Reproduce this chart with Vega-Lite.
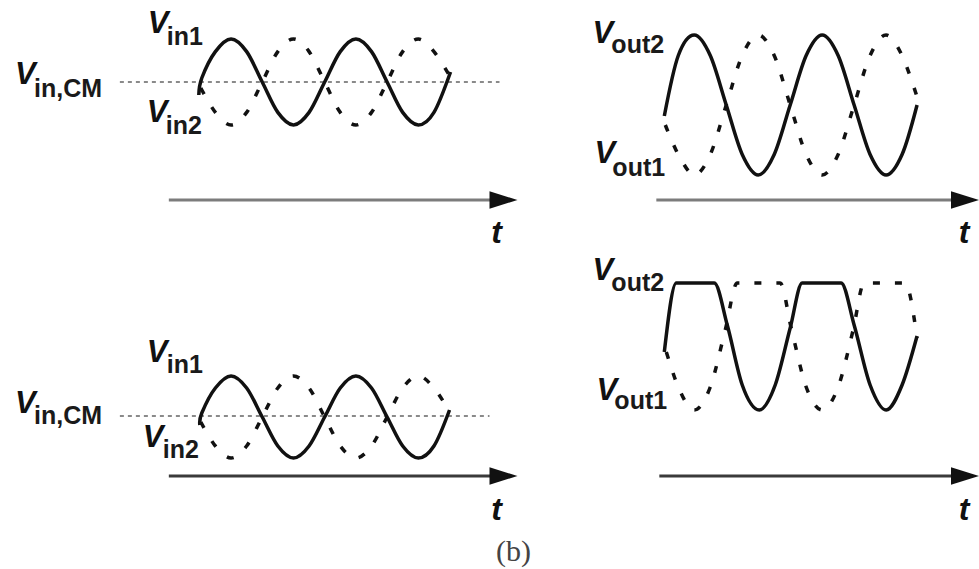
{
  "$schema": "https://vega.github.io/schema/vega-lite/v6.json",
  "width": 979,
  "height": 569,
  "padding": 0,
  "autosize": {"type": "fit", "contains": "padding"},
  "background": "#ffffff",
  "config": {"view": {"stroke": null}},
  "datasets": {
    "waves": [
      {"panel": "in_top", "signal": "Vin1", "x": 199, "y": 95},
      {"panel": "in_top", "signal": "Vin1", "x": 202, "y": 78},
      {"panel": "in_top", "signal": "Vin1", "x": 215.6, "y": 51.6},
      {"panel": "in_top", "signal": "Vin1", "x": 231.3, "y": 39},
      {"panel": "in_top", "signal": "Vin1", "x": 246.9, "y": 51.6},
      {"panel": "in_top", "signal": "Vin1", "x": 262.5, "y": 82},
      {"panel": "in_top", "signal": "Vin1", "x": 278.1, "y": 112.4},
      {"panel": "in_top", "signal": "Vin1", "x": 293.8, "y": 125},
      {"panel": "in_top", "signal": "Vin1", "x": 309.4, "y": 112.4},
      {"panel": "in_top", "signal": "Vin1", "x": 325, "y": 82},
      {"panel": "in_top", "signal": "Vin1", "x": 340.6, "y": 51.6},
      {"panel": "in_top", "signal": "Vin1", "x": 356.3, "y": 39},
      {"panel": "in_top", "signal": "Vin1", "x": 371.9, "y": 51.6},
      {"panel": "in_top", "signal": "Vin1", "x": 387.5, "y": 82},
      {"panel": "in_top", "signal": "Vin1", "x": 403.1, "y": 112.4},
      {"panel": "in_top", "signal": "Vin1", "x": 418.8, "y": 125},
      {"panel": "in_top", "signal": "Vin1", "x": 434.4, "y": 112.4},
      {"panel": "in_top", "signal": "Vin1", "x": 451, "y": 72},
      {"panel": "in_top", "signal": "Vin2", "x": 201, "y": 88},
      {"panel": "in_top", "signal": "Vin2", "x": 215.6, "y": 112.4},
      {"panel": "in_top", "signal": "Vin2", "x": 231.3, "y": 125},
      {"panel": "in_top", "signal": "Vin2", "x": 246.9, "y": 112.4},
      {"panel": "in_top", "signal": "Vin2", "x": 262.5, "y": 82},
      {"panel": "in_top", "signal": "Vin2", "x": 278.1, "y": 51.6},
      {"panel": "in_top", "signal": "Vin2", "x": 293.8, "y": 39},
      {"panel": "in_top", "signal": "Vin2", "x": 309.4, "y": 51.6},
      {"panel": "in_top", "signal": "Vin2", "x": 325, "y": 82},
      {"panel": "in_top", "signal": "Vin2", "x": 340.6, "y": 112.4},
      {"panel": "in_top", "signal": "Vin2", "x": 356.3, "y": 125},
      {"panel": "in_top", "signal": "Vin2", "x": 371.9, "y": 112.4},
      {"panel": "in_top", "signal": "Vin2", "x": 387.5, "y": 82},
      {"panel": "in_top", "signal": "Vin2", "x": 403.1, "y": 51.6},
      {"panel": "in_top", "signal": "Vin2", "x": 418.8, "y": 39},
      {"panel": "in_top", "signal": "Vin2", "x": 434.4, "y": 51.6},
      {"panel": "in_top", "signal": "Vin2", "x": 449, "y": 74},

      {"panel": "out_top", "signal": "Vout2", "x": 665, "y": 116},
      {"panel": "out_top", "signal": "Vout2", "x": 679, "y": 55.5},
      {"panel": "out_top", "signal": "Vout2", "x": 695, "y": 35},
      {"panel": "out_top", "signal": "Vout2", "x": 711, "y": 55.5},
      {"panel": "out_top", "signal": "Vout2", "x": 727, "y": 105},
      {"panel": "out_top", "signal": "Vout2", "x": 743, "y": 154.5},
      {"panel": "out_top", "signal": "Vout2", "x": 759, "y": 175},
      {"panel": "out_top", "signal": "Vout2", "x": 775, "y": 154.5},
      {"panel": "out_top", "signal": "Vout2", "x": 791, "y": 105},
      {"panel": "out_top", "signal": "Vout2", "x": 807, "y": 55.5},
      {"panel": "out_top", "signal": "Vout2", "x": 823, "y": 35},
      {"panel": "out_top", "signal": "Vout2", "x": 839, "y": 55.5},
      {"panel": "out_top", "signal": "Vout2", "x": 855, "y": 105},
      {"panel": "out_top", "signal": "Vout2", "x": 871, "y": 154.5},
      {"panel": "out_top", "signal": "Vout2", "x": 887, "y": 175},
      {"panel": "out_top", "signal": "Vout2", "x": 903, "y": 154.5},
      {"panel": "out_top", "signal": "Vout2", "x": 918, "y": 105},
      {"panel": "out_top", "signal": "Vout1", "x": 666, "y": 125},
      {"panel": "out_top", "signal": "Vout1", "x": 679, "y": 154.5},
      {"panel": "out_top", "signal": "Vout1", "x": 695, "y": 175},
      {"panel": "out_top", "signal": "Vout1", "x": 711, "y": 154.5},
      {"panel": "out_top", "signal": "Vout1", "x": 727, "y": 105},
      {"panel": "out_top", "signal": "Vout1", "x": 743, "y": 55.5},
      {"panel": "out_top", "signal": "Vout1", "x": 759, "y": 35},
      {"panel": "out_top", "signal": "Vout1", "x": 775, "y": 55.5},
      {"panel": "out_top", "signal": "Vout1", "x": 791, "y": 105},
      {"panel": "out_top", "signal": "Vout1", "x": 807, "y": 154.5},
      {"panel": "out_top", "signal": "Vout1", "x": 823, "y": 175},
      {"panel": "out_top", "signal": "Vout1", "x": 839, "y": 154.5},
      {"panel": "out_top", "signal": "Vout1", "x": 855, "y": 105},
      {"panel": "out_top", "signal": "Vout1", "x": 871, "y": 55.5},
      {"panel": "out_top", "signal": "Vout1", "x": 887, "y": 35},
      {"panel": "out_top", "signal": "Vout1", "x": 903, "y": 55.5},
      {"panel": "out_top", "signal": "Vout1", "x": 919, "y": 100},

      {"panel": "in_bot", "signal": "Vin1", "x": 200, "y": 425},
      {"panel": "in_bot", "signal": "Vin1", "x": 202, "y": 413},
      {"panel": "in_bot", "signal": "Vin1", "x": 215.6, "y": 388},
      {"panel": "in_bot", "signal": "Vin1", "x": 231.3, "y": 376},
      {"panel": "in_bot", "signal": "Vin1", "x": 246.9, "y": 388},
      {"panel": "in_bot", "signal": "Vin1", "x": 262.5, "y": 417},
      {"panel": "in_bot", "signal": "Vin1", "x": 278.1, "y": 446},
      {"panel": "in_bot", "signal": "Vin1", "x": 293.8, "y": 458},
      {"panel": "in_bot", "signal": "Vin1", "x": 309.4, "y": 446},
      {"panel": "in_bot", "signal": "Vin1", "x": 325, "y": 417},
      {"panel": "in_bot", "signal": "Vin1", "x": 340.6, "y": 388},
      {"panel": "in_bot", "signal": "Vin1", "x": 356.3, "y": 376},
      {"panel": "in_bot", "signal": "Vin1", "x": 371.9, "y": 388},
      {"panel": "in_bot", "signal": "Vin1", "x": 387.5, "y": 417},
      {"panel": "in_bot", "signal": "Vin1", "x": 403.1, "y": 446},
      {"panel": "in_bot", "signal": "Vin1", "x": 418.8, "y": 458},
      {"panel": "in_bot", "signal": "Vin1", "x": 434.4, "y": 446},
      {"panel": "in_bot", "signal": "Vin1", "x": 450, "y": 410},
      {"panel": "in_bot", "signal": "Vin2", "x": 201, "y": 422},
      {"panel": "in_bot", "signal": "Vin2", "x": 215.6, "y": 446},
      {"panel": "in_bot", "signal": "Vin2", "x": 231.3, "y": 458},
      {"panel": "in_bot", "signal": "Vin2", "x": 246.9, "y": 446},
      {"panel": "in_bot", "signal": "Vin2", "x": 262.5, "y": 417},
      {"panel": "in_bot", "signal": "Vin2", "x": 278.1, "y": 388},
      {"panel": "in_bot", "signal": "Vin2", "x": 293.8, "y": 376},
      {"panel": "in_bot", "signal": "Vin2", "x": 309.4, "y": 388},
      {"panel": "in_bot", "signal": "Vin2", "x": 325, "y": 417},
      {"panel": "in_bot", "signal": "Vin2", "x": 340.6, "y": 446},
      {"panel": "in_bot", "signal": "Vin2", "x": 356.3, "y": 458},
      {"panel": "in_bot", "signal": "Vin2", "x": 371.9, "y": 446},
      {"panel": "in_bot", "signal": "Vin2", "x": 387.5, "y": 417},
      {"panel": "in_bot", "signal": "Vin2", "x": 403.1, "y": 388},
      {"panel": "in_bot", "signal": "Vin2", "x": 418.8, "y": 376},
      {"panel": "in_bot", "signal": "Vin2", "x": 434.4, "y": 388},
      {"panel": "in_bot", "signal": "Vin2", "x": 449, "y": 410},

      {"panel": "out_bot", "signal": "Vout2", "x": 665, "y": 352},
      {"panel": "out_bot", "signal": "Vout2", "x": 677, "y": 283},
      {"panel": "out_bot", "signal": "Vout2", "x": 715, "y": 283},
      {"panel": "out_bot", "signal": "Vout2", "x": 728, "y": 325},
      {"panel": "out_bot", "signal": "Vout2", "x": 743, "y": 385},
      {"panel": "out_bot", "signal": "Vout2", "x": 760, "y": 410},
      {"panel": "out_bot", "signal": "Vout2", "x": 776, "y": 385},
      {"panel": "out_bot", "signal": "Vout2", "x": 791, "y": 328},
      {"panel": "out_bot", "signal": "Vout2", "x": 803, "y": 283},
      {"panel": "out_bot", "signal": "Vout2", "x": 842, "y": 283},
      {"panel": "out_bot", "signal": "Vout2", "x": 855, "y": 325},
      {"panel": "out_bot", "signal": "Vout2", "x": 871, "y": 385},
      {"panel": "out_bot", "signal": "Vout2", "x": 887, "y": 410},
      {"panel": "out_bot", "signal": "Vout2", "x": 903, "y": 385},
      {"panel": "out_bot", "signal": "Vout2", "x": 918, "y": 336},
      {"panel": "out_bot", "signal": "Vout1", "x": 667, "y": 352},
      {"panel": "out_bot", "signal": "Vout1", "x": 679, "y": 387},
      {"panel": "out_bot", "signal": "Vout1", "x": 695, "y": 410},
      {"panel": "out_bot", "signal": "Vout1", "x": 711, "y": 387},
      {"panel": "out_bot", "signal": "Vout1", "x": 726, "y": 330},
      {"panel": "out_bot", "signal": "Vout1", "x": 738, "y": 283},
      {"panel": "out_bot", "signal": "Vout1", "x": 781, "y": 283},
      {"panel": "out_bot", "signal": "Vout1", "x": 792, "y": 328},
      {"panel": "out_bot", "signal": "Vout1", "x": 807, "y": 387},
      {"panel": "out_bot", "signal": "Vout1", "x": 823, "y": 410},
      {"panel": "out_bot", "signal": "Vout1", "x": 839, "y": 387},
      {"panel": "out_bot", "signal": "Vout1", "x": 854, "y": 330},
      {"panel": "out_bot", "signal": "Vout1", "x": 865, "y": 283},
      {"panel": "out_bot", "signal": "Vout1", "x": 906, "y": 283},
      {"panel": "out_bot", "signal": "Vout1", "x": 918, "y": 338}
    ],
    "cm": [
      {"panel": "in_top", "x": 120, "y": 82},
      {"panel": "in_top", "x": 500, "y": 82},
      {"panel": "in_bot", "x": 120, "y": 416},
      {"panel": "in_bot", "x": 490, "y": 416}
    ],
    "axes": [
      {"panel": "in_top", "row": "top", "x": 169, "y": 200},
      {"panel": "in_top", "row": "top", "x": 500, "y": 200},
      {"panel": "out_top", "row": "top", "x": 657, "y": 200},
      {"panel": "out_top", "row": "top", "x": 970, "y": 200},
      {"panel": "in_bot", "row": "bottom", "x": 169, "y": 476},
      {"panel": "in_bot", "row": "bottom", "x": 500, "y": 476},
      {"panel": "out_bot", "row": "bottom", "x": 660, "y": 476},
      {"panel": "out_bot", "row": "bottom", "x": 970, "y": 476}
    ],
    "heads": [
      {"panel": "in_top", "x": 504, "y": 200},
      {"panel": "out_top", "x": 966, "y": 200},
      {"panel": "in_bot", "x": 504, "y": 476},
      {"panel": "out_bot", "x": 966, "y": 476}
    ],
    "labels": [
      {"role": "V", "text": "V", "x": 148, "y": 33},
      {"role": "sub", "text": "in1", "x": 167, "y": 45},
      {"role": "V", "text": "V", "x": 15, "y": 84},
      {"role": "sub", "text": "in,CM", "x": 34, "y": 97},
      {"role": "V", "text": "V", "x": 147, "y": 122},
      {"role": "sub", "text": "in2", "x": 166, "y": 134},
      {"role": "V", "text": "V", "x": 593, "y": 43},
      {"role": "sub", "text": "out2", "x": 612, "y": 53},
      {"role": "V", "text": "V", "x": 595, "y": 163},
      {"role": "sub", "text": "out1", "x": 613, "y": 176},
      {"role": "V", "text": "V", "x": 147, "y": 362},
      {"role": "sub", "text": "in1", "x": 167, "y": 373},
      {"role": "V", "text": "V", "x": 15, "y": 413},
      {"role": "sub", "text": "in,CM", "x": 34, "y": 424},
      {"role": "V", "text": "V", "x": 143, "y": 447},
      {"role": "sub", "text": "in2", "x": 163, "y": 458},
      {"role": "V", "text": "V", "x": 593, "y": 280},
      {"role": "sub", "text": "out2", "x": 612, "y": 291},
      {"role": "V", "text": "V", "x": 597, "y": 400},
      {"role": "sub", "text": "out1", "x": 615, "y": 409},
      {"role": "t", "text": "t", "x": 497, "y": 243},
      {"role": "t", "text": "t", "x": 965, "y": 243},
      {"role": "t", "text": "t", "x": 497, "y": 520},
      {"role": "t", "text": "t", "x": 965, "y": 520},
      {"role": "caption", "text": "(b)", "x": 514, "y": 561}
    ]
  },
  "encoding": {
    "x": {"field": "x", "type": "quantitative", "axis": null, "scale": {"domain": [0, 979], "nice": false, "zero": false}},
    "y": {"field": "y", "type": "quantitative", "axis": null, "scale": {"domain": [0, 569], "nice": false, "zero": false, "reverse": true}}
  },
  "layer": [
    {
      "data": {"name": "cm"},
      "mark": {"type": "line", "color": "#8a8a8a", "strokeWidth": 2, "strokeDash": [4, 4]},
      "encoding": {"detail": {"field": "panel"}}
    },
    {
      "data": {"name": "axes"},
      "mark": {"type": "line", "strokeWidth": 3},
      "encoding": {
        "detail": {"field": "panel"},
        "color": {"field": "row", "type": "nominal", "legend": null, "scale": {"domain": ["top", "bottom"], "range": ["#7c7c7c", "#3a3a3a"]}}
      }
    },
    {
      "data": {"name": "heads"},
      "mark": {"type": "point", "shape": "M -1 -0.62 L 1 0 L -1 0.62 Z", "filled": true, "color": "#111111", "opacity": 1, "size": 784, "strokeWidth": 0}
    },
    {
      "data": {"name": "waves"},
      "transform": [{"filter": {"field": "signal", "oneOf": ["Vin2", "Vout1"]}}, {"filter": {"field": "panel", "oneOf": ["in_top", "out_top", "in_bot"]}}],
      "mark": {"type": "line", "interpolate": "cardinal", "color": "#111111", "strokeWidth": 3.5, "strokeDash": [7, 15]},
      "encoding": {"detail": [{"field": "panel"}, {"field": "signal"}]}
    },
    {
      "data": {"name": "waves"},
      "transform": [{"filter": {"field": "signal", "oneOf": ["Vin1", "Vout2"]}}, {"filter": {"field": "panel", "oneOf": ["in_top", "out_top", "in_bot"]}}],
      "mark": {"type": "line", "interpolate": "cardinal", "color": "#111111", "strokeWidth": 3.5},
      "encoding": {"detail": [{"field": "panel"}, {"field": "signal"}]}
    },
    {
      "data": {"name": "waves"},
      "transform": [{"filter": {"field": "signal", "equal": "Vout1"}}, {"filter": {"field": "panel", "equal": "out_bot"}}],
      "mark": {"type": "line", "interpolate": "monotone", "color": "#111111", "strokeWidth": 3.5, "strokeDash": [7, 15]},
      "encoding": {"detail": [{"field": "panel"}, {"field": "signal"}]}
    },
    {
      "data": {"name": "waves"},
      "transform": [{"filter": {"field": "signal", "equal": "Vout2"}}, {"filter": {"field": "panel", "equal": "out_bot"}}],
      "mark": {"type": "line", "interpolate": "monotone", "color": "#111111", "strokeWidth": 3.5},
      "encoding": {"detail": [{"field": "panel"}, {"field": "signal"}]}
    },
    {
      "data": {"name": "labels"},
      "transform": [{"filter": {"field": "role", "equal": "V"}}],
      "mark": {"type": "text", "align": "left", "baseline": "alphabetic", "font": "Liberation Sans", "fontSize": 31, "fontWeight": "bold", "fontStyle": "italic", "color": "#111111"},
      "encoding": {"text": {"field": "text"}}
    },
    {
      "data": {"name": "labels"},
      "transform": [{"filter": {"field": "role", "equal": "sub"}}],
      "mark": {"type": "text", "align": "left", "baseline": "alphabetic", "font": "Liberation Sans", "fontSize": 25, "fontWeight": "bold", "color": "#1a1a1a"},
      "encoding": {"text": {"field": "text"}}
    },
    {
      "data": {"name": "labels"},
      "transform": [{"filter": {"field": "role", "equal": "t"}}],
      "mark": {"type": "text", "align": "center", "baseline": "alphabetic", "font": "Liberation Sans", "fontSize": 32, "fontWeight": "bold", "fontStyle": "italic", "color": "#111111"},
      "encoding": {"text": {"field": "text"}}
    },
    {
      "data": {"name": "labels"},
      "transform": [{"filter": {"field": "role", "equal": "caption"}}],
      "mark": {"type": "text", "align": "center", "baseline": "alphabetic", "font": "Liberation Serif", "fontSize": 30, "color": "#444444"},
      "encoding": {"text": {"field": "text"}}
    }
  ]
}
